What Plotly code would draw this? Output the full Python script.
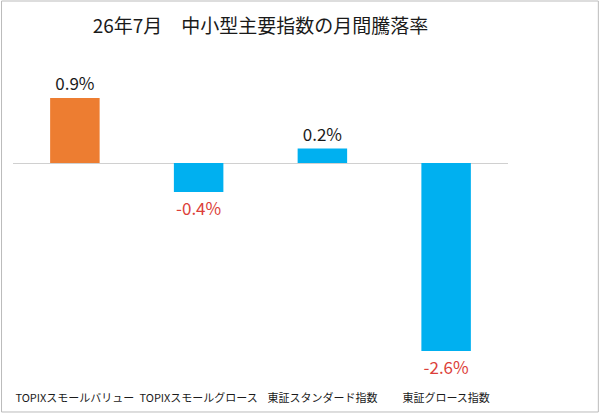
import plotly.graph_objects as go

categories = ["TOPIXスモールバリュー", "TOPIXスモールグロース", "東証スタンダード指数", "東証グロース指数"]
values = [0.9, -0.4, 0.2, -2.6]
bar_colors = ["#ED7D31", "#00B0F0", "#00B0F0", "#00B0F0"]
labels = ["0.9%", "-0.4%", "0.2%", "-2.6%"]
label_colors = ["#1a1a1a" if v >= 0 else "#DC3F3A" for v in values]

FONT = "Noto Sans CJK JP"

fig = go.Figure(go.Bar(
    x=categories,
    y=values,
    marker=dict(color=bar_colors, line=dict(width=0)),
    width=0.4,
    text=labels,
    textposition="outside",
    textfont=dict(size=17, color=label_colors, family=FONT),
    cliponaxis=False,
    hoverinfo="skip",
))

fig.update_layout(
    width=600, height=413,
    margin=dict(l=12.5, r=91.5, t=50, b=29),
    paper_bgcolor="white",
    plot_bgcolor="white",
    showlegend=False,
    font=dict(family=FONT, color="#1a1a1a"),
    title=dict(text="26年7月　中小型主要指数の月間騰落率", x=0.5, xref="paper",
               xanchor="center", y=0.935, yanchor="middle",
               font=dict(size=19, family=FONT, color="#1a1a1a")),
    xaxis=dict(showline=False, ticks="", showgrid=False, ticklabelstandoff=6,
               tickangle=0, automargin=False,
               tickfont=dict(size=11, family=FONT, color="#1a1a1a")),
    yaxis=dict(range=[-3.057, 1.563], showticklabels=False, showgrid=False,
               zeroline=True, zerolinecolor="#D0D0D0", zerolinewidth=1.2,
               showline=False, ticks=""),
    shapes=[dict(type="rect", xref="paper", yref="paper",
                 x0=-0.0232, x1=1.1825, y0=-0.0838, y1=1.1467,
                 line=dict(color="#BBBBBB", width=1), fillcolor="rgba(0,0,0,0)",
                 layer="above")],
)

fig.write_html("out.html", config={"displayModeBar": False},
               post_script="document.body.style.margin='0';")
